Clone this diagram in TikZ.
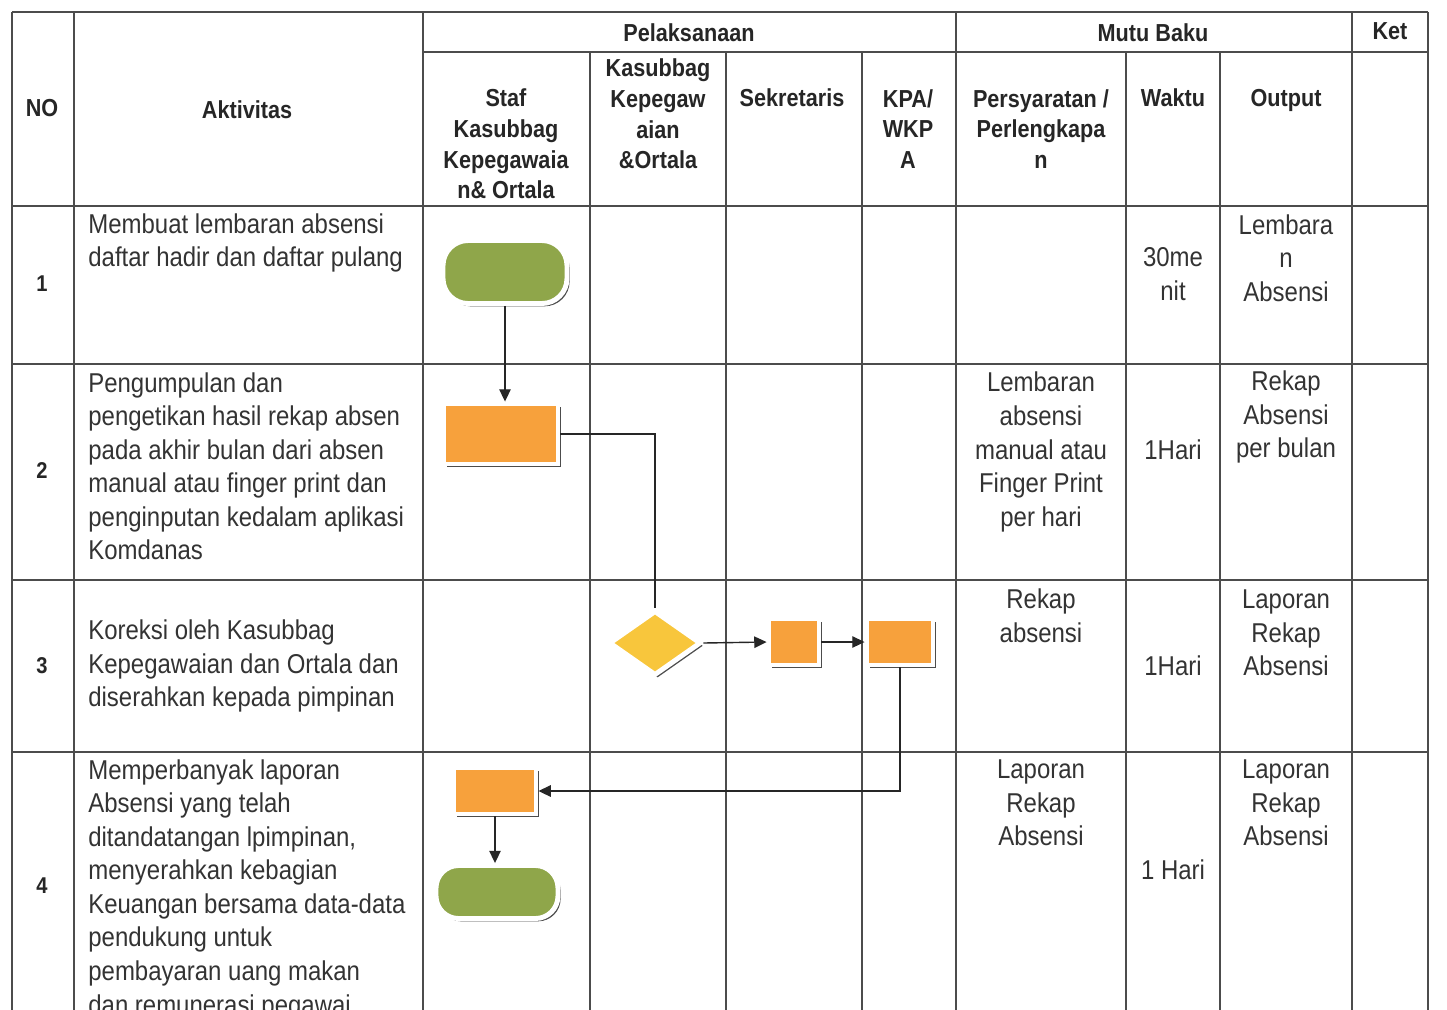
\documentclass[tikz,border=0pt]{standalone}
\usepackage{fontspec}
\setmainfont{Liberation Sans}[FakeStretch=0.88]
\usetikzlibrary{arrows.meta,shapes.geometric,shadows}
\definecolor{hijau}{HTML}{8FA64A}
\definecolor{oranye}{HTML}{F7A13C}
\definecolor{kuning}{HTML}{F8C63C}
\begin{document}
\begin{tikzpicture}[x=0.02cm,y=-0.02cm]
\tikzstyle{every node}+=[inner sep=0pt]
\tikzstyle{grid}=[draw=black!70,line width=0.9pt]
\tikzstyle{head}=[font=\fontsize{14}{17.4}\selectfont\bfseries,align=center,text=black!85]
\tikzstyle{isi}=[font=\fontsize{15.5}{19.1}\selectfont,text=black!80,align=center]
\tikzstyle{nomor}=[font=\fontsize{13}{15}\selectfont\bfseries,text=black!85]
\tikzstyle{bayang}=[draw=white,line width=2.8pt,drop shadow={shadow xshift=1.5pt,shadow yshift=-1.6pt,fill=black!70,opacity=1}]
\tikzstyle{mulai}=[bayang,rectangle,rounded corners=0.5cm,fill=hijau]
\tikzstyle{proses}=[bayang,rectangle,fill=oranye]
\tikzstyle{cek}=[bayang,diamond,fill=kuning]
\tikzstyle{garis}=[draw=black!85,line width=0.8pt]
\tikzstyle{panah}=[garis,-{Triangle[length=7pt,width=6.5pt]}]
\useasboundingbox (0,0) rectangle (1447,1009);
\clip (0,0) rectangle (1447,1009);
\fill [white] (0,0) rectangle (1447,1009);
\draw [grid] (12,12) -- (1428,12);
\draw [grid] (423,52) -- (1428,52);
\draw [grid] (12,206) -- (1428,206);
\draw [grid] (12,364) -- (1428,364);
\draw [grid] (12,580) -- (1428,580);
\draw [grid] (12,752) -- (1428,752);
\draw [grid] (12,12) -- (12,1030);
\draw [grid] (74,12) -- (74,1030);
\draw [grid] (423,12) -- (423,1030);
\draw [grid] (956,12) -- (956,1030);
\draw [grid] (1352,12) -- (1352,1030);
\draw [grid] (1428,12) -- (1428,1030);
\draw [grid] (590,52) -- (590,1030);
\draw [grid] (726,52) -- (726,1030);
\draw [grid] (862,52) -- (862,1030);
\draw [grid] (1126,52) -- (1126,1030);
\draw [grid] (1220,52) -- (1220,1030);
\node [head] (hno) at (42,108) {NO};
\node [head] (hakt) at (247,110) {Aktivitas};
\node [head] (hpel) at (689,33) {Pelaksanaan};
\node [head] (hmutu) at (1153,33) {Mutu Baku};
\node [head] (hket) at (1390,31) {Ket};
\node [head] (hstaf) at (506,144) {Staf\\Kasubbag\\Kepegawaia\\n\& Ortala};
\node [head] (hkasub) at (658,114) {Kasubbag\\Kepegaw\\aian\\\&Ortala};
\node [head] (hsek) at (792,98) {Sekretaris};
\node [head] (hkpa) at (908,129) {KPA/\\WKP\\A};
\node [head] (hsyarat) at (1041,129) {Persyaratan /\\Perlengkapa\\n};
\node [head] (hwaktu) at (1173,98) {Waktu};
\node [head] (hout) at (1286,100) {Output};
\node [nomor] (no1) at (42,284) {1};
\node [nomor] (no2) at (42,471) {2};
\node [nomor] (no3) at (42,666) {3};
\node [nomor] (no4) at (42,886) {4};
\node [isi,align=left,anchor=north west] (akt1) at (88,213) {Membuat lembaran absensi\\daftar hadir dan daftar pulang};
\node [isi,align=left,anchor=north west] (akt2) at (88,372) {Pengumpulan dan\\pengetikan hasil rekap absen\\pada akhir bulan dari absen\\manual atau finger print dan\\penginputan kedalam aplikasi\\Komdanas};
\node [isi,align=left,anchor=west] (akt3) at (88,666) {Koreksi oleh Kasubbag\\Kepegawaian dan Ortala dan\\diserahkan kepada pimpinan};
\node [isi,align=left,anchor=north west] (akt4) at (88,759) {Memperbanyak laporan\\Absensi yang telah\\ditandatangan lpimpinan,\\menyerahkan kebagian\\Keuangan bersama data-data\\pendukung untuk\\pembayaran uang makan\\dan remunerasi pegawai};
\node [isi] (waktu1) at (1173,274) {30me\\nit};
\node [isi] (out1) at (1286,258) {Lembara\\n\\Absensi};
\node [isi] (syarat2) at (1041,452) {Lembaran\\absensi\\manual atau\\Finger Print\\per hari};
\node [isi] (waktu2) at (1173,450) {1Hari};
\node [isi] (out2) at (1286,417) {Rekap\\Absensi\\per bulan};
\node [isi] (syarat3) at (1041,616) {Rekap\\absensi};
\node [isi] (waktu3) at (1173,666) {1Hari};
\node [isi] (out3) at (1286,633) {Laporan\\Rekap\\Absensi};
\node [isi] (syarat4) at (1041,803) {Laporan\\Rekap\\Absensi};
\node [isi] (waktu4) at (1173,870) {1 Hari};
\node [isi] (out4) at (1286,803) {Laporan\\Rekap\\Absensi};
\node [mulai,minimum width=2.48cm,minimum height=1.26cm] (start1) at (505,272) {};
\node [proses,minimum width=2.28cm,minimum height=1.2cm] (rekap2) at (501,434) {};
\node [cek,minimum width=1.84cm,minimum height=1.3cm] (cek3) at (655,643) {};
\node [proses,minimum width=1cm,minimum height=0.92cm] (sek3) at (794,642) {};
\node [proses,minimum width=1.32cm,minimum height=0.92cm] (kpa3) at (900,642) {};
\node [proses,minimum width=1.64cm,minimum height=0.92cm] (lapor4) at (495,791) {};
\node [mulai,minimum width=2.44cm,minimum height=1.06cm,rounded corners=0.45cm] (selesai4) at (497,892) {};
\draw [panah] (start1.south) -- (start1.south |- rekap2.north);
\draw [garis] (rekap2.east) -| (cek3.north);
\draw [panah] (cek3.east) -- (sek3.west);
\draw [panah] (sek3.east) -- (kpa3.west);
\draw [panah] (kpa3.south) |- (lapor4.east);
\draw [panah] (lapor4.south) -- (lapor4.south |- selesai4.north);
\end{tikzpicture}
\end{document}
